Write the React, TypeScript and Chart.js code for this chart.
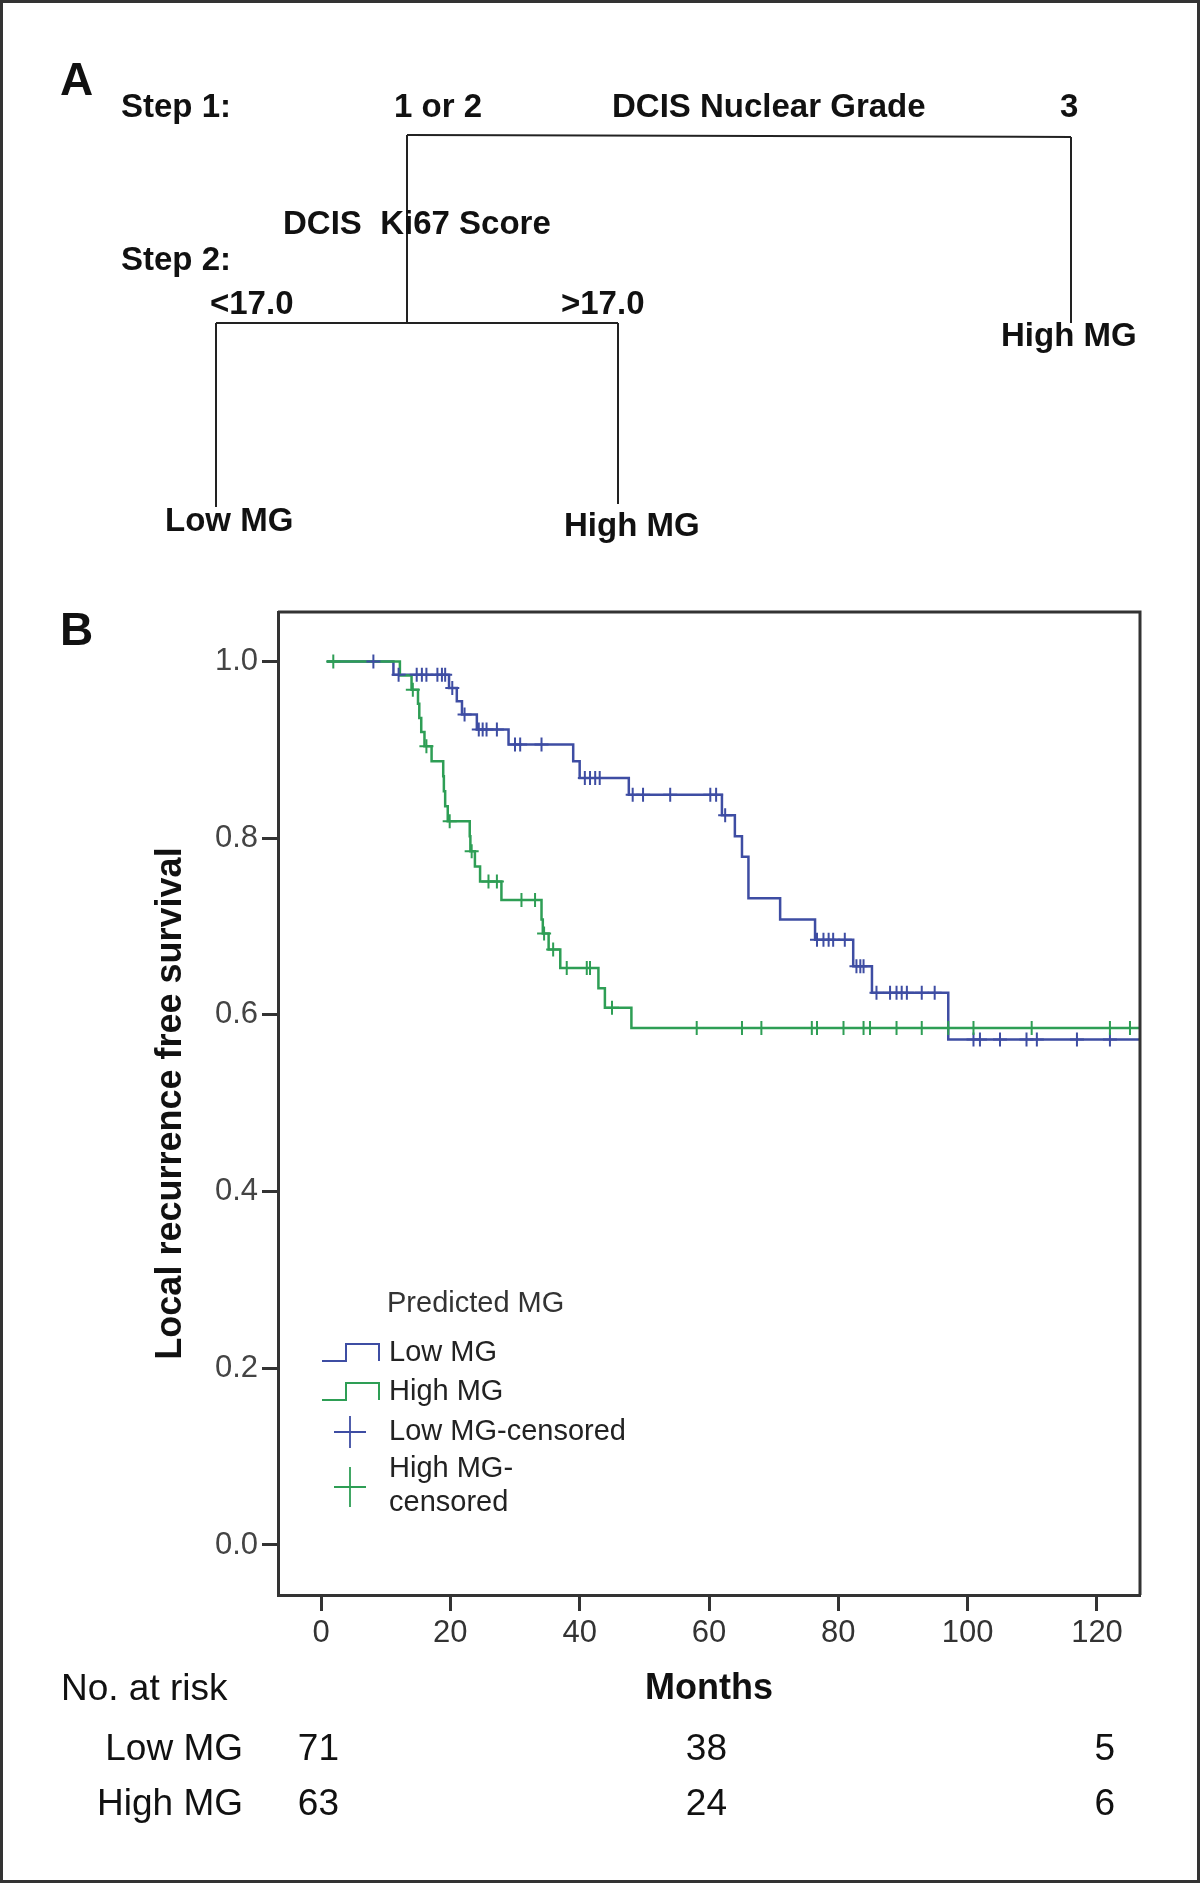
import React, { useEffect, useRef } from "react";
import { Chart, registerables } from "chart.js";

Chart.register(...registerables);

const FONT = '"Liberation Sans", Arial, Helvetica, sans-serif';
const BLUE = "#3e4da3";
const GREEN = "#2e9e55";

// Axis ticks
const xTicks = [0, 20, 40, 60, 80, 100, 120];
const yTicks = [0, 0.2, 0.4, 0.6, 0.8, 1.0];

// Kaplan-Meier steps (month of event, survival after event)
const lowTimes = [0.9, 11.2, 19.8, 21.0, 21.8, 24.1, 29.0, 39.0, 40.0, 47.6, 62.0, 64.0, 65.1, 66.1, 71.0, 76.4, 82.3, 85.2, 97.0, 126.6];
const lowSurv = [1.0, 0.985, 0.970, 0.955, 0.940, 0.923, 0.906, 0.887, 0.868, 0.849, 0.826, 0.802, 0.779, 0.732, 0.708, 0.685, 0.655, 0.625, 0.572, 0.572];
const lowCensored = [8.1, 12.0, 14.8, 15.6, 16.3, 18.0, 18.7, 19.2, 20.3, 22.2, 24.4, 25.0, 25.6, 27.2, 30.0, 30.8, 34.1, 40.8, 41.6, 42.4, 43.1, 48.2, 49.8, 54.0, 60.2, 61.1, 62.5, 76.7, 77.7, 78.5, 79.2, 81.0, 82.8, 83.4, 83.9, 85.9, 88.0, 89.0, 89.8, 90.6, 92.9, 94.9, 100.9, 101.9, 105.0, 109.1, 110.7, 116.9, 122.0];

const highTimes = [0.9, 12.2, 14.0, 15.0, 15.2, 15.5, 16.0, 17.1, 18.9, 19.0, 19.2, 19.6, 23.0, 23.1, 23.8, 24.6, 27.9, 34.1, 34.3, 35.2, 37.0, 42.9, 43.9, 48.0, 126.6];
const highSurv = [1.0, 0.984, 0.968, 0.952, 0.936, 0.920, 0.904, 0.887, 0.870, 0.853, 0.836, 0.819, 0.802, 0.785, 0.768, 0.751, 0.730, 0.708, 0.692, 0.674, 0.653, 0.630, 0.608, 0.585, 0.585];
const highCensored = [1.9, 14.2, 16.3, 19.9, 23.3, 25.9, 27.2, 31.0, 33.1, 34.5, 35.9, 38.0, 41.1, 41.6, 45.0, 58.1, 65.1, 68.1, 75.9, 76.7, 80.8, 83.9, 84.9, 89.0, 92.9, 97.0, 100.9, 109.9, 122.0, 125.1];

// Numbers at risk
const atRiskMonths = [0, 60, 120];
const atRiskLow = [71, 38, 5];
const atRiskHigh = [63, 24, 6];
const atRiskRows = ["Low MG", "High MG"];

function survAt(times: number[], surv: number[], t: number) {
  let s = surv[0];
  for (let i = 0; i < times.length; i++) if (times[i] <= t) s = surv[i];
  return s;
}

const framePlugin = {
  id: "frame",
  afterDatasetsDraw(chart: any) {
    const { ctx, chartArea: a } = chart;
    ctx.save();
    ctx.strokeStyle = "#333";
    ctx.lineWidth = 3;
    ctx.beginPath();
    ctx.moveTo(a.left, a.top);
    ctx.lineTo(a.right, a.top);
    ctx.lineTo(a.right, a.bottom);
    ctx.stroke();
    ctx.restore();
  },
};

const legendPlugin = {
  id: "kmLegend",
  afterDraw(chart: any) {
    const { ctx, chartArea: a } = chart;
    const ds = chart.data.datasets;
    const x0 = a.left + 44;
    const tx = a.left + 111;
    ctx.save();
    ctx.textBaseline = "middle";
    ctx.textAlign = "left";
    ctx.font = `29px ${FONT}`;
    ctx.fillStyle = "#333";
    ctx.fillText("Predicted MG", a.left + 109, a.bottom - 291);
    const rows = [a.bottom - 242, a.bottom - 203];
    [0, 1].forEach((k) => {
      const yc = rows[k];
      ctx.strokeStyle = ds[k].borderColor;
      ctx.lineWidth = 2;
      ctx.beginPath();
      ctx.moveTo(x0, yc + 8);
      ctx.lineTo(x0 + 24, yc + 8);
      ctx.lineTo(x0 + 24, yc - 9);
      ctx.lineTo(x0 + 57, yc - 9);
      ctx.lineTo(x0 + 57, yc + 8);
      ctx.stroke();
      ctx.fillStyle = "#222";
      ctx.fillText(ds[k].label, tx, yc);
    });
    const plus = (cx: number, cy: number, h: number, color: string) => {
      ctx.strokeStyle = color;
      ctx.lineWidth = 1.8;
      ctx.beginPath();
      ctx.moveTo(cx - 16, cy);
      ctx.lineTo(cx + 16, cy);
      ctx.moveTo(cx, cy - h);
      ctx.lineTo(cx, cy + h);
      ctx.stroke();
    };
    plus(a.left + 72, a.bottom - 163, 16, ds[2].borderColor);
    ctx.fillStyle = "#222";
    ctx.fillText(ds[2].label, tx, a.bottom - 163);
    plus(a.left + 72, a.bottom - 108, 20, ds[3].borderColor);
    const parts = String(ds[3].label).split("-");
    ctx.fillText(parts[0] + "-", tx, a.bottom - 126);
    ctx.fillText(parts.slice(1).join("-"), tx, a.bottom - 92);
    ctx.restore();
  },
};

const atRiskPlugin = {
  id: "atRisk",
  afterDraw(chart: any) {
    const { ctx } = chart;
    const xs = chart.scales.x;
    ctx.save();
    ctx.font = `37px ${FONT}`;
    ctx.fillStyle = "#111";
    ctx.textBaseline = "alphabetic";
    ctx.textAlign = "left";
    ctx.fillText("No. at risk", 61, 1700);
    const rowsY = [1760, 1815];
    const vals = [atRiskLow, atRiskHigh];
    rowsY.forEach((y, r) => {
      ctx.textAlign = "right";
      ctx.fillText(atRiskRows[r], 243, y);
      atRiskMonths.forEach((m, i) => {
        ctx.fillText(String(vals[r][i]), xs.getPixelForValue(m) + 18, y);
      });
    });
    ctx.restore();
  },
};

function Tree() {
  const t = { fontFamily: FONT, fontWeight: 700, fontSize: 33, fill: "#111" } as any;
  const ln = { stroke: "#222", strokeWidth: 2 };
  return (
    <svg width={1200} height={700} style={{ position: "absolute", left: 0, top: 0, pointerEvents: "none" }}>
      <text x={60} y={95} style={{ ...t, fontSize: 46 }}>A</text>
      <text x={121} y={117} style={t}>Step 1:</text>
      <text x={394} y={117} style={t}>1 or 2</text>
      <text x={612} y={117} style={t}>DCIS Nuclear Grade</text>
      <text x={1060} y={117} style={t}>3</text>
      <line x1={407} y1={135} x2={1071} y2={137} {...ln} />
      <line x1={407} y1={135} x2={407} y2={323} {...ln} />
      <line x1={1071} y1={137} x2={1071} y2={323} {...ln} />
      <text x={283} y={234} style={{ ...t, whiteSpace: "pre" }}>{"DCIS  Ki67 Score"}</text>
      <text x={121} y={270} style={t}>Step 2:</text>
      <text x={210} y={314} style={t}>{"<17.0"}</text>
      <text x={561} y={314} style={t}>{">17.0"}</text>
      <line x1={216} y1={323} x2={618} y2={323} {...ln} />
      <line x1={216} y1={323} x2={216} y2={507} {...ln} />
      <line x1={618} y1={323} x2={618} y2={504} {...ln} />
      <text x={1001} y={346} style={t}>High MG</text>
      <text x={165} y={531} style={t}>Low MG</text>
      <text x={564} y={536} style={t}>High MG</text>
      <text x={60} y={645} style={{ ...t, fontSize: 46 }}>B</text>
    </svg>
  );
}

export default function App() {
  const canvasRef = useRef<HTMLCanvasElement>(null);
  useEffect(() => {
    const canvas = canvasRef.current!;
    const chart = new Chart(canvas, {
      type: "line",
      data: {
        datasets: [
          {
            label: "Low MG",
            data: lowTimes.map((t, i) => ({ x: t, y: lowSurv[i] })),
            borderColor: BLUE,
            borderWidth: 2.5,
            stepped: true,
            pointRadius: 0,
            fill: false,
            order: 3,
          },
          {
            label: "High MG",
            data: highTimes.map((t, i) => ({ x: t, y: highSurv[i] })),
            borderColor: GREEN,
            borderWidth: 2.5,
            stepped: true,
            pointRadius: 0,
            fill: false,
            order: 2,
          },
          {
            label: "Low MG-censored",
            data: lowCensored.map((t) => ({ x: t, y: survAt(lowTimes, lowSurv, t) })),
            borderColor: BLUE,
            backgroundColor: BLUE,
            showLine: false,
            pointStyle: "cross",
            pointRadius: 7,
            pointBorderWidth: 2,
            order: 1,
          },
          {
            label: "High MG-censored",
            data: highCensored.map((t) => ({ x: t, y: survAt(highTimes, highSurv, t) })),
            borderColor: GREEN,
            backgroundColor: GREEN,
            showLine: false,
            pointStyle: "cross",
            pointRadius: 7,
            pointBorderWidth: 2,
            order: 0,
          },
        ],
      } as any,
      options: {
        responsive: false,
        maintainAspectRatio: false,
        animation: false,
        layout: { padding: { top: 612, left: 0, right: 60, bottom: 172 } },
        plugins: { legend: { display: false }, tooltip: { enabled: false } },
        scales: {
          x: {
            type: "linear",
            min: -6.65,
            max: 126.65,
            afterBuildTicks: (s: any) => {
              s.ticks = xTicks.map((v) => ({ value: v }));
            },
            afterFit: (s: any) => {
              s.height = 116;
            },
            grid: { drawOnChartArea: false, drawTicks: true, tickLength: 16, tickWidth: 3, tickColor: "#333" },
            border: { display: true, color: "#333", width: 3 },
            ticks: { font: { family: FONT, size: 31 }, color: "#333", padding: 4, maxRotation: 0, autoSkip: false },
            title: {
              display: true,
              text: "Months",
              font: { family: FONT, size: 36, weight: "bold" },
              color: "#111",
              padding: { top: 0, bottom: 0 },
            },
          },
          y: {
            type: "linear",
            min: -0.0566,
            max: 1.0559,
            afterBuildTicks: (s: any) => {
              s.ticks = yTicks.map((v) => ({ value: v }));
            },
            afterFit: (s: any) => {
              s.width = 278;
            },
            grid: { drawOnChartArea: false, drawTicks: true, tickLength: 16, tickWidth: 3, tickColor: "#333" },
            border: { display: true, color: "#333", width: 3 },
            ticks: {
              font: { family: FONT, size: 31 },
              color: "#444",
              padding: 4,
              autoSkip: false,
              callback: (v: any) => Number(v).toFixed(1),
            },
            title: {
              display: true,
              text: "Local recurrence free survival",
              font: { family: FONT, size: 36, weight: "bold" },
              color: "#111",
              padding: { top: 149, bottom: 0 },
            },
          },
        },
      } as any,
      plugins: [framePlugin, legendPlugin, atRiskPlugin],
    });
    return () => chart.destroy();
  }, []);

  return (
    <div style={{ position: "absolute", left: 0, top: 0, width: 1200, height: 1883, background: "#fff", overflow: "hidden" }}>
      <canvas ref={canvasRef} width={1200} height={1883} style={{ position: "absolute", left: 0, top: 0, width: 1200, height: 1883 }} />
      <Tree />
      <div style={{ position: "absolute", left: 0, top: 0, width: 1200, height: 1883, border: "3px solid #333", boxSizing: "border-box", pointerEvents: "none" }} />
    </div>
  );
}
